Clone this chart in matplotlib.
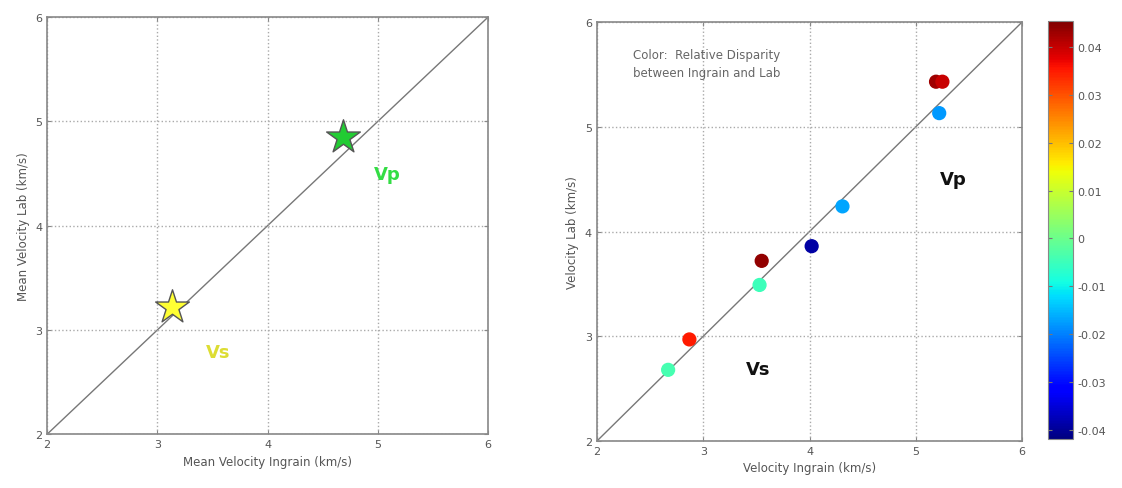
import numpy as np
import matplotlib
matplotlib.use("Agg")
import matplotlib.pyplot as plt

# Mean velocities (left panel)
mean_ingrain = [3.13, 4.68]
mean_lab = [3.22, 4.85]
mean_names = ["Vs", "Vp"]
mean_colors = ["#ffff33", "#22cc33"]

# Individual samples (right panel)
ingrain = [2.67, 2.87, 3.53, 3.55, 4.02, 4.31, 5.22, 5.19, 5.25]
lab = [2.68, 2.97, 3.49, 3.72, 3.86, 4.24, 5.13, 5.43, 5.43]
disparity = [-0.004, 0.035, -0.005, 0.044, -0.039, -0.017, -0.018, 0.043, 0.040]

cbar_ticks = [-0.04, -0.03, -0.02, -0.01, 0, 0.01, 0.02, 0.03, 0.04]
cbar_labels = ["-0.04", "-0.03", "-0.02", "-0.01", "0", "0.01", "0.02", "0.03", "0.04"]
ticks = [2, 3, 4, 5, 6]

plt.rcParams["font.family"] = ["DejaVu Sans"]
txt = "#555555"
edge = "#888888"

fig = plt.figure(figsize=(11.22, 4.89), dpi=100)
ax1 = fig.add_axes([0.042, 0.110, 0.393, 0.853])
ax2 = fig.add_axes([0.532, 0.096, 0.379, 0.857])
cax = fig.add_axes([0.934, 0.100, 0.022, 0.855])


def style(ax):
    ax.set_xlim(2, 6)
    ax.set_ylim(2, 6)
    ax.set_xticks(ticks)
    ax.set_yticks(ticks)
    ax.grid(True, linestyle=":", color="#aaaaaa", linewidth=1)
    ax.tick_params(direction="in", top=True, right=True, labelsize=8,
                   colors=edge, labelcolor=txt, length=3)
    for s in ax.spines.values():
        s.set_color(edge)
        s.set_linewidth(1.2)
    ax.plot([2, 6], [2, 6], color="#777777", linewidth=1, zorder=1)


style(ax1)
for x, y, n, c in zip(mean_ingrain, mean_lab, mean_names, mean_colors):
    ax1.scatter(x, y, marker="*", s=650, color=c, edgecolors="#555555",
                linewidths=1, zorder=3)
ax1.text(5.09, 4.5, "Vp", color="#33dd44", fontsize=13, fontweight="bold",
         ha="center", va="center")
ax1.text(3.55, 2.79, "Vs", color="#dddd33", fontsize=13, fontweight="bold",
         ha="center", va="center")
ax1.set_xlabel("Mean Velocity Ingrain (km/s)", fontsize=8.5, color=txt)
ax1.set_ylabel("Mean Velocity Lab (km/s)", fontsize=8.5, color=txt)

style(ax2)
sc = ax2.scatter(ingrain, lab, c=disparity, cmap="jet", vmin=-0.042,
                 vmax=0.0455, s=85, zorder=3)
ax2.text(5.35, 4.5, "Vp", color="#111111", fontsize=13, fontweight="bold",
         ha="center", va="center")
ax2.text(3.52, 2.69, "Vs", color="#111111", fontsize=13, fontweight="bold",
         ha="center", va="center")
ax2.text(2.34, 5.6, "Color:  Relative Disparity\nbetween Ingrain and Lab",
         fontsize=8.5, color="#666666", va="center", ha="left",
         linespacing=1.5)
ax2.set_xlabel("Velocity Ingrain (km/s)", fontsize=8.5, color=txt)
ax2.set_ylabel("Velocity Lab (km/s)", fontsize=8.5, color=txt)

cb = fig.colorbar(sc, cax=cax, ticks=cbar_ticks)
cb.ax.set_yticklabels(cbar_labels)
cb.ax.tick_params(direction="in", labelsize=8, colors="#777777",
                  labelcolor=txt, left=True, length=3)
cb.outline.set_edgecolor(edge)

fig.savefig("out.png", dpi=100)
